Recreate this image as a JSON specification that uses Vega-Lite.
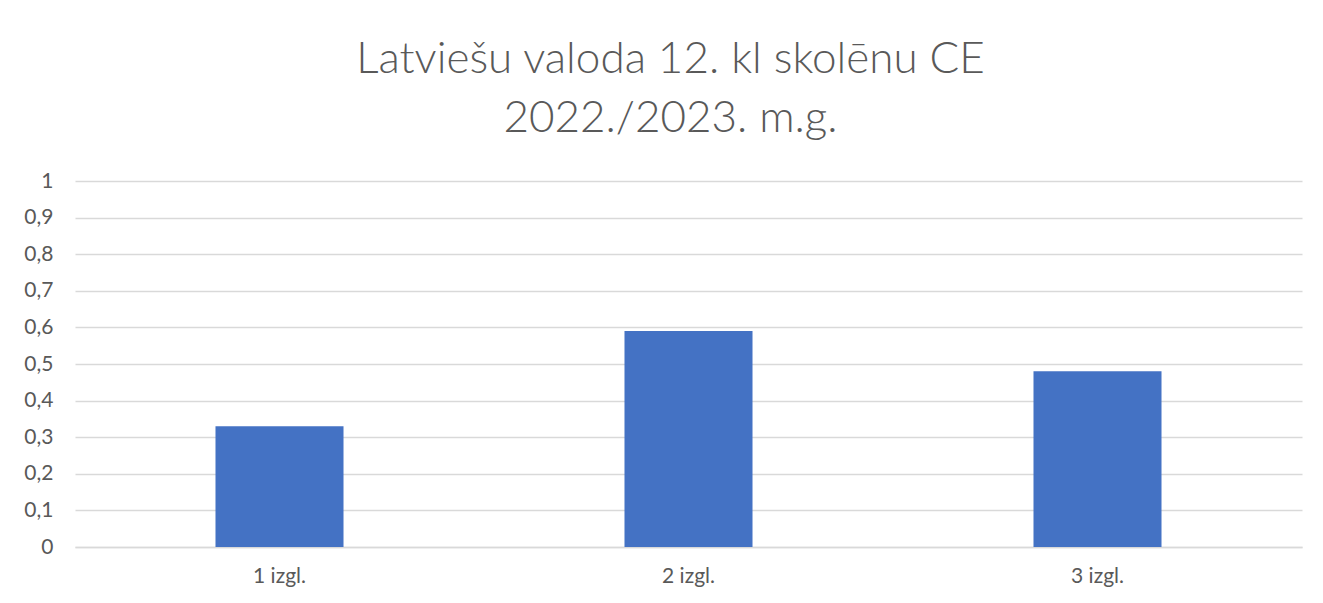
{
  "$schema": "https://vega.github.io/schema/vega-lite/v6.json",
  "autosize": {"type": "none"},
  "padding": {"left": 75, "top": 181, "right": 21, "bottom": 56},
  "width": 1227,
  "height": 366,
  "background": "white",
  "title": {
    "text": ["Latviešu valoda 12. kl skolēnu CE", "2022./2023. m.g."],
    "anchor": "middle",
    "dx": -18,
    "font": "Lato",
    "fontSize": 44,
    "fontWeight": 300,
    "color": "#595959",
    "lineHeight": 59,
    "offset": 29
  },
  "data": {
    "values": [
      {"category": "1 izgl.", "value": 0.33},
      {"category": "2 izgl.", "value": 0.59},
      {"category": "3 izgl.", "value": 0.48}
    ]
  },
  "mark": {"type": "bar", "color": "#4472C4"},
  "encoding": {
    "x": {
      "field": "category",
      "type": "nominal",
      "sort": null,
      "scale": {"paddingInner": 0.687, "paddingOuter": 0.3435},
      "axis": {
        "title": null,
        "labelAngle": 0,
        "labelFont": "Lato",
        "labelFontSize": 21,
        "labelColor": "#595959",
        "labelPadding": 18,
        "ticks": false,
        "domainColor": "#d9d9d9",
        "domainWidth": 1.5
      }
    },
    "y": {
      "field": "value",
      "type": "quantitative",
      "scale": {"domain": [0, 1], "nice": false},
      "axis": {
        "title": null,
        "values": [0, 0.1, 0.2, 0.3, 0.4, 0.5, 0.6, 0.7, 0.8, 0.9, 1],
        "labelExpr": "replace(format(datum.value, '~g'), '.', ',')",
        "labelOverlap": false,
        "labelFont": "Lato",
        "labelFontSize": 21,
        "labelColor": "#595959",
        "labelPadding": 22,
        "ticks": false,
        "domain": false,
        "gridColor": "#d9d9d9",
        "gridWidth": 1.5
      }
    }
  },
  "config": {"view": {"stroke": null}}
}
